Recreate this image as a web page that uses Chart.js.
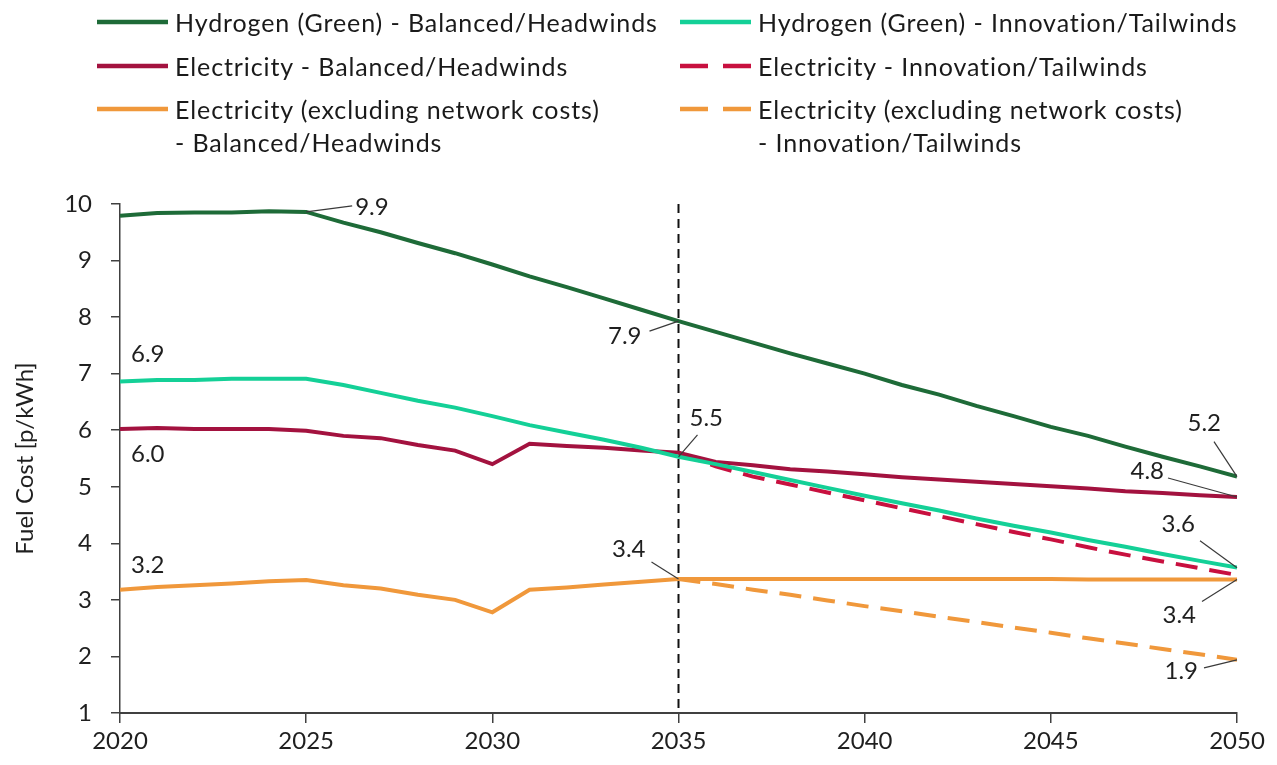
<!DOCTYPE html>
<html>
<head>
<meta charset="utf-8">
<script src="https://cdn.jsdelivr.net/npm/chart.js@4.4.1/dist/chart.umd.min.js"></script>
<style>
  html, body { margin: 0; padding: 0; background: #ffffff; }
  #wrap { position: relative; width: 1277px; height: 765px; overflow: hidden; }
  #fuel-chart { position: absolute; left: 0; top: 0; }
  .legend-item { position: absolute; font: 25px Lato, sans-serif; letter-spacing: 0.9px; line-height: 33px; color: #1a1a1a; white-space: nowrap; }
  .legend-item svg { position: absolute; left: 0; top: 12px; }
  .legend-item span { position: absolute; left: 78px; top: 0; }
</style>
</head>
<body>
<div id="wrap">
  <canvas id="fuel-chart" width="1277" height="765"></canvas>
  <div id="legend"></div>
</div>
<script>
const years = [2020, 2021, 2022, 2023, 2024, 2025, 2026, 2027, 2028, 2029, 2030,
  2031, 2032, 2033, 2034, 2035, 2036, 2037, 2038, 2039, 2040,
  2041, 2042, 2043, 2044, 2045, 2046, 2047, 2048, 2049, 2050];

const hydrogenBalanced = [9.79, 9.84, 9.85, 9.85, 9.87, 9.86, 9.67, 9.50, 9.31, 9.13, 8.93,
  8.72, 8.53, 8.33, 8.13, 7.93, 7.74, 7.55, 7.36, 7.18, 7.00,
  6.80, 6.63, 6.43, 6.25, 6.06, 5.90, 5.71, 5.53, 5.36, 5.18];
const hydrogenInnovation = [6.86, 6.89, 6.89, 6.91, 6.91, 6.91, 6.80, 6.66, 6.52, 6.40, 6.25,
  6.09, 5.96, 5.83, 5.69, 5.53, 5.40, 5.26, 5.12, 4.98, 4.84,
  4.71, 4.58, 4.44, 4.31, 4.19, 4.06, 3.94, 3.81, 3.69, 3.57];
const electricityBalanced = [6.02, 6.04, 6.02, 6.02, 6.02, 5.99, 5.90, 5.86, 5.74, 5.64, 5.40,
  5.76, 5.72, 5.69, 5.64, 5.60, 5.44, 5.38, 5.31, 5.27, 5.22,
  5.17, 5.13, 5.09, 5.05, 5.01, 4.97, 4.92, 4.89, 4.85, 4.82];
const electricityInnovation = [null, null, null, null, null, null, null, null, null, null, null,
  null, null, null, null, 5.60, 5.36, 5.18, 5.04, 4.90, 4.76,
  4.62, 4.48, 4.34, 4.20, 4.07, 3.93, 3.80, 3.68, 3.56, 3.44];
const exNetworkBalanced = [3.18, 3.23, 3.26, 3.29, 3.33, 3.35, 3.26, 3.20, 3.09, 3.00, 2.78,
  3.18, 3.22, 3.27, 3.32, 3.37, 3.37, 3.37, 3.37, 3.37, 3.37,
  3.37, 3.37, 3.37, 3.37, 3.37, 3.36, 3.36, 3.36, 3.36, 3.36];
const exNetworkInnovation = [null, null, null, null, null, null, null, null, null, null, null,
  null, null, null, null, 3.37, 3.28, 3.18, 3.09, 2.99, 2.89,
  2.80, 2.70, 2.61, 2.51, 2.42, 2.32, 2.23, 2.13, 2.04, 1.94];

const seriesLabels = [
  ['Hydrogen (Green) - Balanced/Headwinds'],
  ['Hydrogen (Green) - Innovation/Tailwinds'],
  ['Electricity - Balanced/Headwinds'],
  ['Electricity - Innovation/Tailwinds'],
  ['Electricity (excluding network costs)', '- Balanced/Headwinds'],
  ['Electricity (excluding network costs)', '- Innovation/Tailwinds']
];
const seriesValues = [hydrogenBalanced, hydrogenInnovation, electricityBalanced,
  electricityInnovation, exNetworkBalanced, exNetworkInnovation];
const seriesColors = ['#1e6b38', '#14d097', '#a3123f', '#c8103f', '#f0983b', '#f0983b'];
const seriesDashed = [false, false, false, true, false, true];

const yTicks = [1, 2, 3, 4, 5, 6, 7, 8, 9, 10];
const xTicks = [2020, 2025, 2030, 2035, 2040, 2045, 2050];
const markerYear = 2035;

// value callouts: series index, year, text offset, leader end offset, text alignment
const callouts = [
  { s: 0, year: 2025, dx: 49, dy: -5, lx: 46, ly: -6, align: 'left' },
  { s: 0, year: 2035, dx: -37, dy: 15, lx: -29, ly: 10, align: 'right' },
  { s: 1, year: 2020, dx: 11, dy: -27, align: 'left' },
  { s: 2, year: 2020, dx: 11, dy: 25, align: 'left' },
  { s: 4, year: 2020, dx: 11, dy: -24, align: 'left' },
  { s: 4, year: 2035, dx: -33, dy: -30, lx: -27, ly: -17, align: 'right' },
  { s: 1, year: 2035, dx: 11, dy: -39, lx: 19, ly: -22, align: 'left' },
  { s: 0, year: 2050, dx: -16, dy: -53, lx: -23, ly: -35, align: 'right' },
  { s: 2, year: 2050, dx: -73, dy: -26, lx: -69, ly: -19, align: 'right' },
  { s: 1, year: 2050, dx: -42, dy: -43, lx: -37, ly: -27, align: 'right' },
  { s: 4, year: 2050, dx: -41, dy: 36, lx: -35, ly: 22, align: 'right' },
  { s: 5, year: 2050, dx: -39, dy: 11, lx: -33, ly: 8, align: 'right' }
];

const FONT = 'Lato, sans-serif';
const INK = '#1f1f1f';
const AXIS = '#404040';

function renderLegend() {
  const legend = document.getElementById('legend');
  legend.innerHTML = seriesLabels.map((lines, index) => {
    const col = index % 2;
    const row = Math.floor(index / 2);
    const left = col === 0 ? 97 : 680;
    const top = 6 + row * 43.5;
    const dash = seriesDashed[index] ? 'stroke-dasharray="28 15"' : '';
    return `
      <div class="legend-item" style="left:${left}px;top:${top}px;width:580px;height:${lines.length * 33}px">
        <svg width="71" height="8"><line x1="0" y1="4" x2="71" y2="4" stroke="${seriesColors[index]}" stroke-width="4.5" ${dash}/></svg>
        <span>${lines.join('<br>')}</span>
      </div>
    `;
  }).join('');
}

const calloutPlugin = {
  id: 'calloutPlugin',
  beforeDatasetsDraw(chart) {
    const { ctx, scales: { x, y } } = chart;
    ctx.save();
    ctx.strokeStyle = '#111111';
    ctx.lineWidth = 2;
    ctx.setLineDash([9, 6]);
    ctx.beginPath();
    ctx.moveTo(x.getPixelForValue(markerYear), y.getPixelForValue(10));
    ctx.lineTo(x.getPixelForValue(markerYear), y.getPixelForValue(1));
    ctx.stroke();
    ctx.restore();
  },
  afterDatasetsDraw(chart) {
    const { ctx, scales: { x, y } } = chart;
    ctx.save();
    ctx.font = `24px ${FONT}`;
    ctx.fillStyle = INK;
    ctx.textBaseline = 'middle';
    callouts.forEach((c) => {
      const value = seriesValues[c.s][years.indexOf(c.year)];
      const px = x.getPixelForValue(c.year);
      const py = y.getPixelForValue(value);
      if (c.lx !== undefined) {
        ctx.strokeStyle = '#3a3a3a';
        ctx.lineWidth = 1.2;
        ctx.beginPath();
        ctx.moveTo(px, py);
        ctx.lineTo(px + c.lx, py + c.ly);
        ctx.stroke();
      }
      ctx.textAlign = c.align;
      ctx.fillText(value.toFixed(1), px + c.dx, py + c.dy);
    });
    ctx.restore();
  }
};

function renderChart() {
  const canvas = document.getElementById('fuel-chart');
  const datasets = seriesValues.map((values, index) => ({
    label: seriesLabels[index].join(' '),
    data: years.map((year, i) => ({ x: year, y: values[i] })),
    borderColor: seriesColors[index],
    borderWidth: 4,
    borderDash: seriesDashed[index] ? [22, 12] : [],
    pointRadius: 0,
    tension: 0,
    fill: false,
    spanGaps: false
  }));

  new Chart(canvas, {
    type: 'line',
    data: { datasets },
    plugins: [calloutPlugin],
    options: {
      responsive: false,
      animation: false,
      layout: { padding: { top: 204, right: 40, bottom: 0, left: 0 } },
      plugins: { legend: { display: false }, tooltip: { enabled: false } },
      scales: {
        x: {
          type: 'linear',
          min: 2020,
          max: 2050,
          afterFit: (scale) => { scale.height = 52; },
          afterBuildTicks: (scale) => { scale.ticks = xTicks.map((value) => ({ value })); },
          ticks: { color: INK, font: { family: FONT, size: 24 }, padding: 4, maxRotation: 0, callback: (v) => String(v) },
          grid: { drawOnChartArea: false, drawTicks: true, tickLength: 10, color: AXIS, lineWidth: 1.5 },
          border: { display: true, color: AXIS, width: 2 }
        },
        y: {
          min: 1,
          max: 10,
          afterFit: (scale) => { scale.width = 120; },
          afterBuildTicks: (scale) => { scale.ticks = yTicks.map((value) => ({ value })); },
          ticks: { color: INK, font: { family: FONT, size: 24 }, padding: 19 },
          grid: { drawOnChartArea: false, drawTicks: true, tickLength: 9, color: AXIS, lineWidth: 1.5 },
          border: { display: true, color: AXIS, width: 1.5 },
          title: { display: true, text: 'Fuel Cost [p/kWh]', color: INK, font: { family: FONT, size: 24 }, padding: { top: 11, bottom: 0 } }
        }
      }
    }
  });
}

document.addEventListener('DOMContentLoaded', () => {
  renderLegend();
  renderChart();
});
</script>
</body>
</html>
